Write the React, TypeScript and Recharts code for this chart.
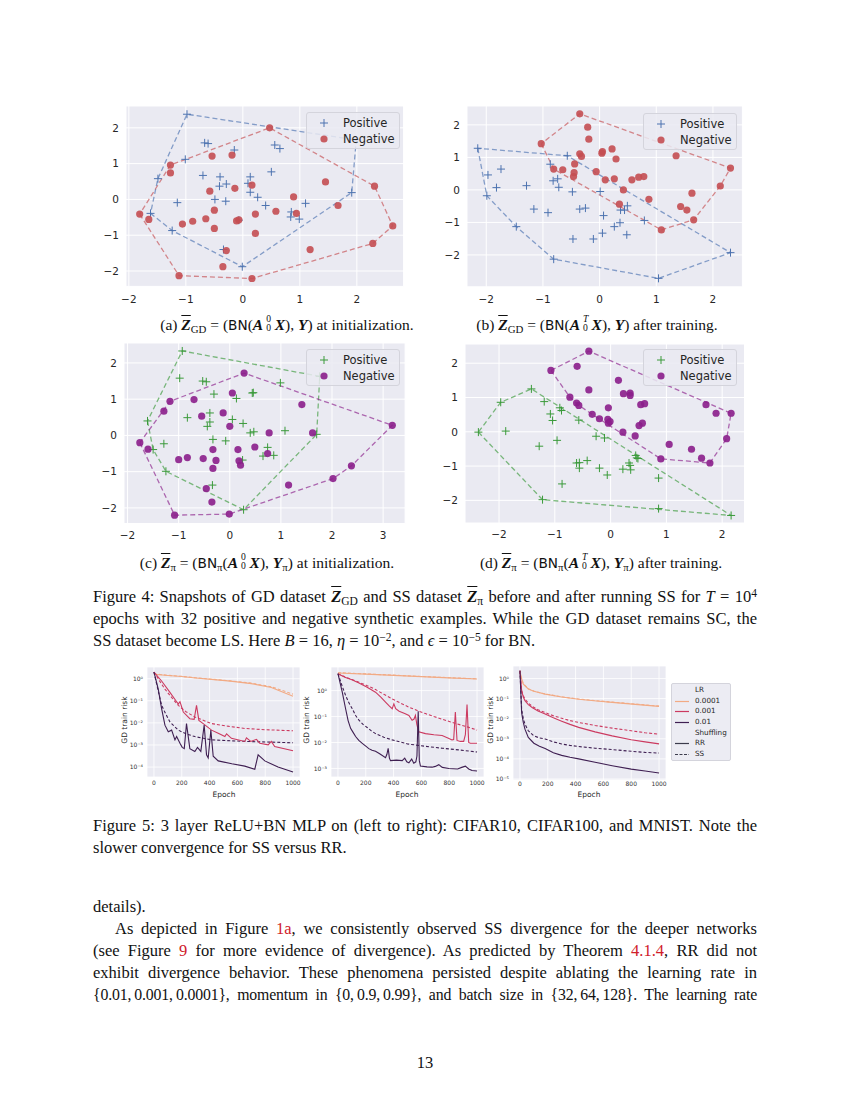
import React from "react";
import { ScatterChart, Scatter, LineChart, Line, XAxis, YAxis, CartesianGrid } from "recharts";

type Pt = [number, number];

// ---------- Figure 4 data (x, y) ----------
const aPos: Pt[] = [[-0.98,2.38],[-0.67,1.58],[-0.61,1.56],[-0.15,1.38],[-1.01,1.12],[0.56,1.52],[0.65,1.42],[-1.49,0.58],[-0.70,0.67],[-0.40,0.63],[-0.41,0.37],[-0.29,0.43],[0.13,0.63],[0.09,0.45],[0.50,0.77],[0.13,0.20],[0.26,0.06],[-0.49,0.0],[-0.30,-0.05],[-1.15,-0.09],[0.40,-0.17],[1.10,-0.11],[1.91,0.19],[1.99,1.66],[0.85,-0.35],[0.84,-0.49],[0.99,-0.55],[-1.62,-0.39],[-1.24,-0.87],[-0.01,-1.88],[-0.07,-0.58],[-0.34,-1.40]];
const aNeg: Pt[] = [[0.47,2.0],[-1.27,0.96],[-1.27,0.74],[-0.54,1.21],[-0.19,1.24],[1.45,0.49],[2.31,0.37],[2.63,-0.74],[2.28,-1.23],[1.18,-1.40],[0.16,-2.21],[-1.12,-2.13],[-1.81,-0.41],[-1.65,-0.56],[-1.06,-0.69],[-0.88,-0.61],[-0.65,-0.54],[-0.50,-0.30],[-0.50,-0.81],[-0.58,0.23],[-0.14,0.31],[0.16,0.40],[-0.11,-0.60],[0.22,-0.41],[0.58,-0.33],[0.89,0.07],[0.94,-0.39],[1.67,-0.17],[0.22,-0.95],[-0.29,-1.43],[-0.35,-1.88],[-0.07,-0.57]];

const bPos: Pt[] = [[-2.15,1.28],[-1.97,0.46],[-1.74,0.64],[-1.82,0.07],[-1.99,-0.18],[-1.29,0.13],[-1.47,-1.13],[-1.16,-0.59],[-0.91,-0.70],[-0.81,-2.13],[1.04,-2.72],[2.31,-1.93],[-0.57,1.05],[-0.87,0.79],[-0.82,0.28],[-0.74,0.34],[-0.72,0.08],[-0.48,-0.06],[-0.35,-0.59],[-0.25,-0.56],[-0.47,-1.51],[-0.11,-1.51],[0.01,-0.05],[0.07,-0.79],[0.05,-1.33],[0.26,-1.13],[0.36,-1.01],[0.37,-0.62],[0.44,-0.62],[0.49,-0.49],[0.48,-1.38],[0.79,-0.94]];
const bNeg: Pt[] = [[-0.35,2.34],[-1.03,1.42],[2.31,0.67],[2.13,0.12],[1.66,-0.92],[1.09,-1.23],[-0.81,0.64],[-0.21,1.93],[-0.19,1.56],[-0.35,1.11],[-0.32,1.03],[0.04,1.13],[0.05,1.18],[0.22,1.26],[0.29,0.95],[1.35,1.05],[-0.44,0.80],[-0.45,0.53],[-0.46,0.41],[-0.65,0.62],[-0.06,0.56],[0.10,0.31],[0.26,0.34],[0.42,0.0],[0.57,0.31],[0.69,0.39],[0.78,0.41],[0.35,-0.44],[0.87,-0.29],[1.63,-0.10],[1.43,-0.51],[1.54,-0.62]];

const cPos: Pt[] = [[-0.93,2.33],[-0.98,1.58],[-0.53,1.50],[-0.46,1.48],[-0.31,1.14],[0.13,1.02],[0.46,1.18],[0.99,1.45],[-1.61,0.40],[-0.83,0.49],[-0.39,0.62],[-0.39,0.37],[-0.44,0.25],[0.05,0.44],[0.26,0.33],[0.40,0.07],[0.47,0.10],[1.08,0.13],[1.70,0.03],[-0.33,-0.11],[-0.08,-0.15],[-1.29,-0.23],[-1.50,-0.39],[-1.25,-0.99],[-0.34,-1.37],[0.27,-2.05],[0.74,-0.33],[0.65,-0.57],[0.86,-0.55],[0.25,-0.68],[1.76,1.63],[0.44,1.17]];
const cNeg: Pt[] = [[0.28,1.72],[-1.17,0.94],[-1.29,0.67],[-0.70,0.99],[0.05,1.17],[-0.13,0.62],[-0.55,0.53],[0.0,0.25],[1.41,0.85],[3.18,0.28],[1.62,0.07],[0.77,0.07],[-1.76,-0.20],[-1.60,-0.38],[-1.0,-0.67],[-0.83,-0.61],[-0.52,-0.64],[-0.33,-0.39],[-0.27,-0.69],[-0.33,-0.91],[0.16,-0.39],[0.49,-0.32],[0.74,-0.50],[0.18,-0.70],[0.21,-0.82],[-0.46,-1.47],[-0.35,-1.84],[1.15,-1.37],[2.02,-1.19],[2.38,-0.84],[-1.08,-2.20],[-0.01,-2.17]];

const dPos: Pt[] = [[-2.37,-0.01],[-1.97,0.86],[-1.42,1.25],[-1.22,-1.98],[0.86,-2.24],[2.16,-2.44],[-1.88,0.02],[-1.19,0.88],[-1.08,0.52],[-1.04,0.33],[-0.91,0.70],[-0.88,0.62],[-0.57,0.34],[-1.28,-0.42],[-0.96,-0.25],[-0.26,-0.13],[-0.11,-0.18],[-0.61,-0.91],[-0.56,-0.90],[-0.56,-1.06],[-0.42,-0.84],[-0.20,-1.06],[-0.06,-1.26],[-0.87,-1.52],[0.22,-1.09],[0.33,-0.91],[0.35,-0.98],[0.36,-1.11],[0.45,-0.69],[0.47,-0.76],[0.86,-1.35],[0.49,-0.78]];
const dNeg: Pt[] = [[-0.39,2.35],[-1.07,1.79],[-0.60,1.91],[2.16,0.54],[2.08,-0.20],[1.78,-0.91],[1.63,-0.77],[0.90,-0.79],[-0.73,1.01],[-0.61,0.84],[-0.57,0.77],[-0.39,1.22],[-0.33,0.51],[-0.20,0.38],[-0.04,0.70],[-0.05,0.36],[-0.04,0.25],[-0.01,0.30],[0.14,1.50],[0.23,1.11],[0.35,1.13],[0.35,1.06],[0.54,0.79],[0.61,0.82],[0.57,0.25],[0.51,0.18],[0.22,-0.01],[0.44,-0.12],[1.05,-0.37],[1.45,-0.51],[1.71,0.79],[1.89,0.54]];

// ---------- Figure 5 data (epoch, GD train risk) ----------
const c10Lr4RR: Pt[] = [[0,1.6],[100,1.4],[200,1.25],[300,1.08],[414,0.93],[550,0.78],[700,0.6],[844,0.4],[1000,0.16]];
const c10Lr4SS: Pt[] = [[0,1.65],[100,1.43],[200,1.27],[300,1.1],[414,0.95],[550,0.8],[700,0.63],[844,0.43],[1000,0.2]];
const c10Lr3RR: Pt[] = [[0,2.0],[55,0.79],[115,0.24],[163,0.091],[175,0.072],[187,0.092],[211,0.031],[258,0.0155],[289,0.0145],[306,0.062],[323,0.013],[354,0.0093],[414,0.0047],[462,0.0034],[510,0.0024],[522,0.0032],[557,0.002],[653,0.00144],[665,0.0021],[696,0.00144],[737,0.0018],[761,0.0012],[821,0.00102],[844,0.00144],[868,0.00085],[1000,0.00055]];
const c10Lr3SS: Pt[] = [[0,2.0],[40,0.8],[79,0.34],[120,0.16],[175,0.062],[230,0.032],[294,0.0186],[414,0.0093],[530,0.0071],[653,0.0056],[800,0.0049],[1000,0.0044]];
const c10Lr2RR: Pt[] = [[0,2.0],[31,0.34],[55,0.044],[79,0.0079],[103,0.004],[127,0.0047],[151,0.0017],[163,0.0024],[187,0.0012],[203,0.00078],[218,0.00068],[234,0.0093],[258,0.00068],[294,0.00051],[313,0.00078],[337,0.00051],[361,0.0079],[378,0.00036],[390,0.00026],[409,0.0047],[426,0.00031],[462,0.00019],[560,0.00014],[653,0.00011],[725,0.00008],[749,0.00036],[797,0.00019],[892,0.0001],[1000,0.00006]];
const c10Lr2SS: Pt[] = [[0,2.0],[25,0.4],[55,0.062],[85,0.025],[115,0.011],[175,0.0047],[230,0.0032],[294,0.0024],[414,0.0017],[653,0.00145],[1000,0.00126]];

const c100Lr4RR: Pt[] = [[0,4.8],[200,4.3],[400,3.85],[600,3.45],[800,3.1],[1000,2.8]];
const c100Lr4SS: Pt[] = [[0,4.9],[200,4.4],[400,3.95],[600,3.5],[800,3.15],[1000,2.85]];
const c100Lr3RR: Pt[] = [[0,4.5],[50,3.3],[100,2.6],[151,1.95],[210,1.35],[270,0.87],[310,0.55],[342,0.36],[370,0.25],[390,0.2],[402,0.31],[415,0.2],[440,0.16],[480,0.13],[510,0.11],[533,0.072],[547,0.08],[557,0.11],[567,0.05],[581,0.026],[629,0.022],[690,0.02],[749,0.0186],[790,0.015],[820,0.0126],[832,0.013],[844,0.15],[856,0.012],[880,0.011],[904,0.011],[916,0.02],[928,0.29],[940,0.01],[952,0.0093],[1000,0.0093]];
const c100Lr3SS: Pt[] = [[0,4.5],[50,3.4],[100,2.7],[151,2.1],[210,1.55],[270,1.1],[330,0.72],[390,0.48],[450,0.33],[510,0.23],[570,0.17],[629,0.13],[690,0.1],[749,0.079],[810,0.062],[868,0.05],[930,0.04],[1000,0.03]];
const c100Lr2RR: Pt[] = [[0,4.5],[31,0.87],[55,0.2],[73,0.07],[91,0.035],[110,0.024],[127,0.017],[150,0.012],[175,0.0093],[200,0.0072],[222,0.0058],[245,0.005],[270,0.0046],[300,0.0037],[342,0.0026],[352,0.0035],[361,0.006],[370,0.0025],[378,0.002],[420,0.0021],[462,0.002],[480,0.0025],[495,0.0018],[510,0.00166],[530,0.0023],[545,0.0016],[560,0.0018],[568,0.003],[577,0.16],[585,0.002],[593,0.00123],[640,0.00115],[677,0.00112],[700,0.0012],[725,0.0014],[750,0.0011],[797,0.001],[860,0.00095],[890,0.0011],[916,0.00123],[940,0.00095],[964,0.00083],[1000,0.0008]];
const c100Lr2SS: Pt[] = [[0,4.5],[30,1.5],[55,0.65],[80,0.33],[103,0.2],[127,0.11],[151,0.072],[180,0.05],[210,0.038],[240,0.028],[270,0.022],[330,0.016],[390,0.0126],[500,0.0088],[629,0.0071],[750,0.006],[868,0.0052],[1000,0.0043]];

const mnLr4RR: Pt[] = [[0,2.4],[8,1.2],[24,0.52],[60,0.3],[100,0.23],[181,0.166],[300,0.12],[422,0.093],[550,0.076],[663,0.065],[850,0.05],[1000,0.041]];
const mnLr4SS: Pt[] = [[0,2.4],[8,1.25],[24,0.54],[60,0.31],[100,0.235],[181,0.17],[300,0.123],[422,0.095],[550,0.078],[663,0.067],[850,0.052],[1000,0.042]];
const mnLr3RR: Pt[] = [[0,2.4],[12,0.25],[24,0.12],[36,0.078],[60,0.05],[90,0.035],[130,0.024],[181,0.017],[240,0.011],[300,0.0075],[360,0.0052],[422,0.0037],[540,0.0022],[663,0.0014],[800,0.0009],[900,0.0007],[1000,0.00056]];
const mnLr3SS: Pt[] = [[0,2.4],[12,0.25],[24,0.14],[36,0.093],[60,0.06],[90,0.04],[130,0.028],[181,0.02],[240,0.014],[300,0.0105],[360,0.008],[422,0.0065],[540,0.0046],[663,0.0034],[800,0.0025],[900,0.002],[1000,0.0017]];
const mnLr2RR: Pt[] = [[0,2.4],[12,0.02],[24,0.0065],[36,0.003],[60,0.00117],[100,0.0006],[140,0.00043],[181,0.00033],[240,0.0002],[300,0.00015],[360,0.00012],[422,0.0001],[540,0.000068],[663,0.000046],[800,0.000031],[900,0.000025],[1000,0.00002]];
const mnLr2SS: Pt[] = [[0,2.4],[12,0.03],[24,0.01],[36,0.0054],[60,0.0025],[100,0.0014],[140,0.0011],[181,0.00098],[240,0.0007],[300,0.00055],[360,0.00047],[422,0.00041],[540,0.00034],[663,0.00029],[800,0.00024],[900,0.00021],[1000,0.000195]];

const epochTicks = [0, 200, 400, 600, 800, 1000];
const LR_LABELS = ["0.0001", "0.001", "0.01"];
const LR_COLORS = ["#f2aa84", "#cc3a60", "#3f1f52"];

const BLUE = "#4c72b0";
const RED = "#c44e52";
const GREEN = "#3a9a3a";
const PURPLE = "#8b1e8b";
const BG = "#eaeaf2";
const SANS = "'DejaVu Sans', sans-serif";
const SERIF = "'Liberation Serif', serif";

const toXY = (pts: Pt[]) => pts.map(([x, y]) => ({ x, y }));

// convex hull (monotone chain), closed
const hull = (pts: Pt[]) => {
  const s = [...pts].sort((a, b) => a[0] - b[0] || a[1] - b[1]);
  const cross = (o: Pt, a: Pt, b: Pt) => (a[0] - o[0]) * (b[1] - o[1]) - (a[1] - o[1]) * (b[0] - o[0]);
  const lower: Pt[] = [];
  for (const p of s) {
    while (lower.length >= 2 && cross(lower[lower.length - 2], lower[lower.length - 1], p) <= 0) lower.pop();
    lower.push(p);
  }
  const upper: Pt[] = [];
  for (const p of [...s].reverse()) {
    while (upper.length >= 2 && cross(upper[upper.length - 2], upper[upper.length - 1], p) <= 0) upper.pop();
    upper.push(p);
  }
  const h = [...lower.slice(0, -1), ...upper.slice(0, -1)];
  return toXY([...h, h[0]]);
};

const minus = (v: number) => (v < 0 ? "\u2212" + Math.abs(v) : String(v));
const SUP: Record<string, string> = { "-": "\u207B", "0": "\u2070", "1": "\u00B9", "2": "\u00B2", "3": "\u00B3", "4": "\u2074", "5": "\u2075" };
const logTick = (v: number) =>
  "10" + String(Math.round(Math.log10(v))).split("").map((c) => SUP[c]).join("");

const plusShape = (color: string) => (p: any) => (
  <path d={`M${p.cx - 4},${p.cy}h8M${p.cx},${p.cy - 4}v8`} stroke={color} strokeWidth={1} fill="none" />
);
const dotShape = (color: string) => (p: any) => (
  <circle cx={p.cx} cy={p.cy} r={3.6} fill={color} fillOpacity={0.9} />
);
const noShape = () => <g />;

interface ScatterPanelProps {
  left: number;
  top: number;
  w: number;
  h: number;
  xDomain: [number, number];
  yDomain: [number, number];
  xTicks: number[];
  yTicks: number[];
  pos: Pt[];
  neg: Pt[];
  posColor: string;
  negColor: string;
  xTickGap: number;
}

const ScatterPanel = (p: ScatterPanelProps) => {
  const tick = { fontSize: 10.5, fill: "#262626", fontFamily: SANS };
  return (
    <div style={{ position: "absolute", left: p.left - 40, top: p.top - 5 }}>
      <ScatterChart width={p.w + 45} height={p.h + 30} margin={{ top: 5, right: 5, bottom: 0, left: 0 }}>
        <CartesianGrid stroke="#ffffff" strokeWidth={1} fill={BG} />
        <XAxis type="number" dataKey="x" domain={p.xDomain} ticks={p.xTicks} allowDataOverflow interval={0}
          axisLine={false} tickLine={false} tickSize={0} tickMargin={p.xTickGap} height={25} tick={tick} tickFormatter={minus} />
        <YAxis type="number" dataKey="y" domain={p.yDomain} ticks={p.yTicks} allowDataOverflow interval={0}
          axisLine={false} tickLine={false} tickSize={0} tickMargin={7} width={40} tick={tick} tickFormatter={minus} />
        <Scatter data={hull(p.pos)} shape={noShape} isAnimationActive={false} legendType="none"
          line={{ stroke: p.posColor, strokeWidth: 1.3, strokeDasharray: "5 3", strokeOpacity: 0.65 }} />
        <Scatter data={hull(p.neg)} shape={noShape} isAnimationActive={false} legendType="none"
          line={{ stroke: p.negColor, strokeWidth: 1.3, strokeDasharray: "5 3", strokeOpacity: 0.65 }} />
        <Scatter data={toXY(p.pos)} shape={plusShape(p.posColor)} isAnimationActive={false} />
        <Scatter data={toXY(p.neg)} shape={dotShape(p.negColor)} isAnimationActive={false} />
      </ScatterChart>
    </div>
  );
};

const PosNegLegend = ({ left, top, posColor, negColor }: { left: number; top: number; posColor: string; negColor: string }) => (
  <div style={{ position: "absolute", left, top, width: 94, height: 37, background: "rgba(234,234,242,0.85)",
    border: "1px solid #d4d4dc", borderRadius: 3, boxSizing: "border-box", fontFamily: SANS, fontSize: 11.5, color: "#262626" }}>
    <svg width={20} height={36} style={{ position: "absolute", left: 7, top: 0 }}>
      <path d="M6,10h8M10,6v8" stroke={posColor} strokeWidth={1} />
      <circle cx={10} cy={26} r={3.6} fill={negColor} fillOpacity={0.9} />
    </svg>
    <div style={{ position: "absolute", left: 36, top: 2, lineHeight: "16px" }}>Positive</div>
    <div style={{ position: "absolute", left: 36, top: 18, lineHeight: "16px" }}>Negative</div>
  </div>
);

interface Series { data: Pt[]; color: string; dashed: boolean }

const RiskPanel = ({ left, top, h, yDomain, yTicks, series }: { left: number; top: number; h: number; yDomain: [number, number]; yTicks: number[]; series: Series[] }) => {
  const w = 153;
  const tick = { fontSize: 6, fill: "#333", fontFamily: SANS };
  return (
    <div style={{ position: "absolute", left: left - 32, top: top - 2 }}>
      <LineChart width={w + 34} height={h + 16} margin={{ top: 2, right: 2, bottom: 0, left: 0 }}>
        <CartesianGrid stroke="#ffffff" strokeWidth={0.8} fill={BG} />
        <XAxis type="number" dataKey="x" domain={[-50, 1050]} ticks={epochTicks} allowDataOverflow interval={0}
          axisLine={false} tickLine={false} tickSize={0} tickMargin={h > 112 ? 2 : 4} height={14} tick={tick} />
        <YAxis type="number" scale="log" dataKey="y" domain={yDomain} ticks={yTicks} allowDataOverflow interval={0}
          axisLine={false} tickLine={false} tickSize={0} tickMargin={4} width={32} tick={tick} tickFormatter={logTick} />
        {series.map((s, i) => (
          <Line key={i} data={toXY(s.data)} dataKey="y" type="linear" stroke={s.color} strokeWidth={1.1}
            strokeDasharray={s.dashed ? "3 2" : undefined} dot={false} activeDot={false} isAnimationActive={false} />
        ))}
      </LineChart>
    </div>
  );
};

const mk = (rr: Pt[][], ss: Pt[][]): Series[] => [
  ...ss.map((d, i) => ({ data: d, color: LR_COLORS[i], dashed: true })),
  ...rr.map((d, i) => ({ data: d, color: LR_COLORS[i], dashed: false })),
];

// ---------- text helpers ----------
const Bi = ({ children }: { children: React.ReactNode }) => <b><i>{children}</i></b>;
const Zb = () => <b><i style={{ textDecoration: "overline" }}>Z</i></b>;
const Sub = ({ children }: { children: React.ReactNode }) => (
  <span style={{ fontSize: "0.7em", position: "relative", top: "0.3em", lineHeight: 0 }}>{children}</span>
);
const Sup = ({ children }: { children: React.ReactNode }) => (
  <span style={{ fontSize: "0.7em", position: "relative", top: "-0.45em", lineHeight: 0 }}>{children}</span>
);
// stacked superscript / subscript after a symbol
const Stack = ({ t, b }: { t: React.ReactNode; b: React.ReactNode }) => (
  <span style={{ display: "inline-block", width: "0.55em", marginLeft: 3, position: "relative", height: "1em" }}>
    <span style={{ position: "absolute", left: 0, top: "-0.1em", fontSize: "0.62em", lineHeight: 1 }}>{t}</span>
    <span style={{ position: "absolute", left: 0, top: "0.85em", fontSize: "0.62em", lineHeight: 1 }}>{b}</span>
  </span>
);
const BN = () => <span style={{ fontFamily: SANS, fontSize: "0.88em" }}>BN</span>;
const Ref = ({ children }: { children: React.ReactNode }) => <span style={{ color: "#d0202a" }}>{children}</span>;

const TextLine = ({ children, last, tight }: { children: React.ReactNode; last?: boolean; tight?: boolean }) => (
  <div style={{ textAlign: "justify", textAlignLast: last ? "left" : "justify", height: 22, lineHeight: "22px",
    fontSize: tight ? 15.8 : undefined, letterSpacing: tight ? -0.15 : undefined }}>{children}</div>
);

const Caption = ({ cx, cy, children }: { cx: number; cy: number; children: React.ReactNode }) => (
  <div style={{ position: "absolute", left: cx - 200, top: cy - 11, width: 400, textAlign: "center", lineHeight: "22px", whiteSpace: "nowrap", fontSize: 15.5 }}>{children}</div>
);

const Lr5Legend = () => {
  const rows: { label: string; color?: string; dashed?: boolean }[] = [
    { label: "LR" },
    ...LR_LABELS.map((l, i) => ({ label: l, color: LR_COLORS[i] })),
    { label: "Shuffling" },
    { label: "RR", color: "#3c3c4c" },
    { label: "SS", color: "#3c3c4c", dashed: true },
  ];
  return (
    <div style={{ position: "absolute", left: 671, top: 683, width: 60, height: 78, background: "rgba(234,234,242,0.9)",
      border: "1px solid #d4d4dc", borderRadius: 2, boxSizing: "border-box", fontFamily: SANS, fontSize: 7.2, color: "#262626" }}>
      {rows.map((r, i) => (
        <div key={i} style={{ position: "absolute", left: 0, top: 1 + i * 10.65, height: 10, width: 58 }}>
          {r.color && (
            <svg width={16} height={10} style={{ position: "absolute", left: 3, top: 0 }}>
              <line x1={0} y1={5.5} x2={14} y2={5.5} stroke={r.color} strokeWidth={1.2} strokeDasharray={r.dashed ? "3 1.5" : undefined} />
            </svg>
          )}
          <span style={{ position: "absolute", left: 23, top: 0, lineHeight: "10px" }}>{r.label}</span>
        </div>
      ))}
    </div>
  );
};

export default function App() {
  return (
    <div style={{ position: "absolute", left: 0, top: 0, width: 850, height: 1100, background: "#fff", overflow: "hidden",
      fontFamily: SERIF, fontSize: 16.5, color: "#111" }}>
      {/* Figure 4 */}
      <ScatterPanel left={126.4} top={105.9} w={277.6} h={180.4} xDomain={[-2.05, 2.82]} yDomain={[-2.43, 2.61]}
        xTicks={[-2, -1, 0, 1, 2]} yTicks={[-2, -1, 0, 1, 2]} pos={aPos} neg={aNeg} posColor={BLUE} negColor={RED} xTickGap={9} />
      <ScatterPanel left={467.4} top={106.1} w={275.4} h={180.8} xDomain={[-2.34, 2.52]} yDomain={[-2.98, 2.58]}
        xTicks={[-2, -1, 0, 1, 2]} yTicks={[-2, -1, 0, 1, 2]} pos={bPos} neg={bNeg} posColor={BLUE} negColor={RED} xTickGap={9} />
      <ScatterPanel left={124.1} top={342.8} w={281.1} h={180.5} xDomain={[-2.07, 3.43]} yDomain={[-2.43, 2.55]}
        xTicks={[-2, -1, 0, 1, 2, 3]} yTicks={[-2, -1, 0, 1, 2]} pos={cPos} neg={cNeg} posColor={GREEN} negColor={PURPLE} xTickGap={8} />
      <ScatterPanel left={465.1} top={343.5} w={279.5} h={179} xDomain={[-2.61, 2.4]} yDomain={[-2.66, 2.56]}
        xTicks={[-2, -1, 0, 1, 2]} yTicks={[-2, -1, 0, 1, 2]} pos={dPos} neg={dNeg} posColor={GREEN} negColor={PURPLE} xTickGap={8} />
      <PosNegLegend left={306} top={112} posColor={BLUE} negColor={RED} />
      <PosNegLegend left={643} top={113} posColor={BLUE} negColor={RED} />
      <PosNegLegend left={306} top={349} posColor={GREEN} negColor={PURPLE} />
      <PosNegLegend left={643} top={349} posColor={GREEN} negColor={PURPLE} />

      <Caption cx={287} cy={325}>(a) <Zb /><Sub>GD</Sub> = (<BN />(<Bi>A</Bi><Stack t="0" b="0" /><Bi>X</Bi>), <Bi>Y</Bi>) at initialization.</Caption>
      <Caption cx={597} cy={325}>(b) <Zb /><Sub>GD</Sub> = (<BN />(<Bi>A</Bi><Stack t={<i>T</i>} b="0" /><Bi>X</Bi>), <Bi>Y</Bi>) after training.</Caption>
      <Caption cx={267} cy={563}>(c) <Zb /><Sub>π</Sub> = (<BN /><Sub>π</Sub>(<Bi>A</Bi><Stack t="0" b="0" /><Bi>X</Bi>), <Bi>Y</Bi><Sub>π</Sub>) at initialization.</Caption>
      <Caption cx={601} cy={563}>(d) <Zb /><Sub>π</Sub> = (<BN /><Sub>π</Sub>(<Bi>A</Bi><Stack t={<i>T</i>} b="0" /><Bi>X</Bi>), <Bi>Y</Bi><Sub>π</Sub>) after training.</Caption>

      <div style={{ position: "absolute", left: 93, top: 586, width: 664 }}>
        <TextLine>Figure 4: Snapshots of GD dataset <Zb /><Sub>GD</Sub> and SS dataset <Zb /><Sub>π</Sub> before and after running SS for <i>T</i> = 10<Sup>4</Sup></TextLine>
        <TextLine>epochs with 32 positive and negative synthetic examples. While the GD dataset remains SC, the</TextLine>
        <TextLine last>SS dataset become LS. Here <i>B</i> = 16, <i>η</i> = 10<Sup>−2</Sup>, and <i>ϵ</i> = 10<Sup>−5</Sup> for BN.</TextLine>
      </div>

      {/* Figure 5 */}
      <RiskPanel left={147.3} top={667} h={110} yDomain={[Math.pow(10, -4.45), Math.pow(10, 0.53)]}
        yTicks={[1, 1e-1, 1e-2, 1e-3, 1e-4]} series={mk([c10Lr4RR, c10Lr3RR, c10Lr2RR], [c10Lr4SS, c10Lr3SS, c10Lr2SS])} />
      <RiskPanel left={330.7} top={667} h={110} yDomain={[Math.pow(10, -3.33), Math.pow(10, 0.91)]}
        yTicks={[1, 1e-1, 1e-2, 1e-3]} series={mk([c100Lr4RR, c100Lr3RR, c100Lr2RR], [c100Lr4SS, c100Lr3SS, c100Lr2SS])} />
      <RiskPanel left={512.7} top={666} h={114} yDomain={[Math.pow(10, -5.05), Math.pow(10, 0.62)]}
        yTicks={[1, 1e-1, 1e-2, 1e-3, 1e-4, 1e-5]} series={mk([mnLr4RR, mnLr3RR, mnLr2RR], [mnLr4SS, mnLr3SS, mnLr2SS])} />
      {[125, 307, 491].map((x, i) => (
        <div key={i} style={{ position: "absolute", left: x - 40, top: 715, width: 80, textAlign: "center", transform: "rotate(-90deg)",
          fontFamily: SANS, fontSize: 7.5, color: "#262626", lineHeight: "10px" }}>GD train risk</div>
      ))}
      {[224, 407, 589].map((x, i) => (
        <div key={i} style={{ position: "absolute", left: x - 30, top: 790, width: 60, textAlign: "center",
          fontFamily: SANS, fontSize: 7.5, color: "#262626", lineHeight: "10px" }}>Epoch</div>
      ))}
      <Lr5Legend />

      <div style={{ position: "absolute", left: 93, top: 815, width: 664 }}>
        <TextLine>Figure 5: 3 layer ReLU+BN MLP on (left to right): CIFAR10, CIFAR100, and MNIST. Note the</TextLine>
        <TextLine last>slower convergence for SS versus RR.</TextLine>
      </div>

      <div style={{ position: "absolute", left: 93, top: 896, width: 664 }}>
        <TextLine last>details).</TextLine>
        <TextLine><span style={{ display: "inline-block", width: 22 }} />As depicted in Figure <Ref>1a</Ref>, we consistently observed SS divergence for the deeper networks</TextLine>
        <TextLine>(see Figure <Ref>9</Ref> for more evidence of divergence).  As predicted by Theorem <Ref>4.1.4</Ref>, RR did not</TextLine>
        <TextLine>exhibit divergence behavior. These phenomena persisted despite ablating the learning rate in</TextLine>
        <TextLine tight>{"{0.01,\u202F0.001,\u202F0.0001}, momentum in {0,\u202F0.9,\u202F0.99}, and batch size in {32,\u202F64,\u202F128}. The learning rate"}</TextLine>
      </div>

      <div style={{ position: "absolute", left: 375, top: 1052, width: 100, textAlign: "center", lineHeight: "22px" }}>13</div>
    </div>
  );
}
